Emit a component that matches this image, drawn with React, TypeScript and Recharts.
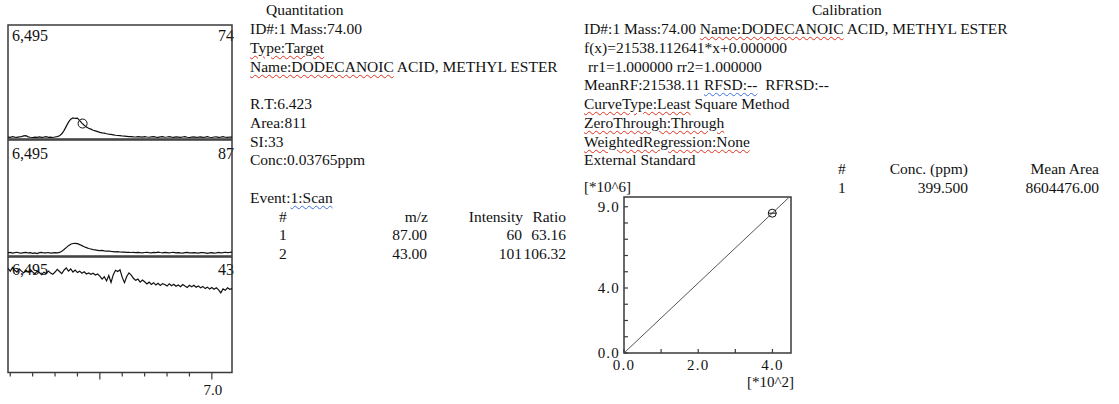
import React from "react";
import {
  LineChart,
  Line,
  XAxis,
  YAxis,
  ReferenceArea,
  ReferenceDot,
  ScatterChart,
  Scatter,
} from "recharts";

const FONT = '"Liberation Serif", "Times New Roman", serif';
const INK = "#111";
const FRAME = "#3a3a3a";
const LH = 18.75;

// retention time (min), one sample every 0.01
const RT = [
  6.09, 6.1, 6.11, 6.12, 6.13, 6.14, 6.15, 6.16, 6.17, 6.18,
  6.19, 6.2, 6.21, 6.22, 6.23, 6.24, 6.25, 6.26, 6.27, 6.28,
  6.29, 6.3, 6.31, 6.32, 6.33, 6.34, 6.35, 6.36, 6.37, 6.38,
  6.39, 6.4, 6.41, 6.42, 6.43, 6.44, 6.45, 6.46, 6.47, 6.48,
  6.49, 6.5, 6.51, 6.52, 6.53, 6.54, 6.55, 6.56, 6.57, 6.58,
  6.59, 6.6, 6.61, 6.62, 6.63, 6.64, 6.65, 6.66, 6.67, 6.68,
  6.69, 6.7, 6.71, 6.72, 6.73, 6.74, 6.75, 6.76, 6.77, 6.78,
  6.79, 6.8, 6.81, 6.82, 6.83, 6.84, 6.85, 6.86, 6.87, 6.88,
  6.89, 6.9, 6.91, 6.92, 6.93, 6.94, 6.95, 6.96, 6.97, 6.98,
  6.99, 7.0, 7.01, 7.02, 7.03, 7.04, 7.05, 7.06, 7.07, 7.08,
  7.09,
];

// ion traces (counts)
const M74 = [
  110, 95, 130, 105, 90, 120, 140, 175, 190, 120,
  100, 85, 110, 95, 120, 90, 105, 130, 95, 110,
  85, 115, 135, 180, 300, 480, 720, 960, 1130, 1200,
  1170, 1190, 1050, 900, 780, 690, 610, 560, 500, 460,
  420, 380, 350, 330, 300, 275, 260, 240, 215, 200,
  195, 170, 160, 150, 135, 140, 125, 115, 130, 120,
  105, 135, 115, 100, 125, 140, 110, 95, 120, 130,
  100, 115, 135, 105, 95, 120, 110, 90, 115, 130,
  100, 85, 110, 125, 95, 105, 120, 90, 110, 135,
  100, 85, 115, 120, 95, 110, 130, 100, 90, 115,
  105,
];

const M87 = [
  180, 200, 165, 185, 210, 175, 160, 190, 205, 170,
  185, 150, 175, 140, 185, 200, 170, 180, 195, 165,
  180, 190, 175, 200, 260, 360, 470, 580, 660, 700,
  710, 690, 640, 580, 520, 470, 420, 390, 360, 340,
  320, 300, 310, 285, 270, 280, 255, 250, 235, 240,
  225, 215, 220, 205, 210, 195, 200, 185, 205, 190,
  180, 195, 210, 185, 175, 200, 190, 215, 195, 180,
  200, 185, 170, 195, 205, 180, 190, 175, 165, 185,
  200, 180, 170, 190, 175, 160, 185, 195, 175, 150,
  170, 185, 165, 180, 200, 175, 185, 210, 190, 200,
  215,
];

const M43 = [
  5850, 5700, 5900, 5750, 5650, 5820, 5700, 5600, 5760, 5640,
  5780, 5660, 5550, 5700, 5620, 5500, 5640, 5560, 5700, 5600,
  5520, 5650, 5800, 5680, 5560, 5750, 5880, 5700, 5820, 5650,
  5760, 5620, 5700, 5580, 5660, 5540, 5600, 5520, 5580, 5480,
  5540, 5420, 5250, 5380, 5150, 5450, 5060, 5500, 5750, 5680,
  5780, 5350, 5050, 5400, 5600, 5480, 5300, 5180, 5250, 5080,
  5200, 5100, 4980, 5080, 4950, 5050, 4920, 5020, 4900, 5000,
  4950, 4860, 4990, 4880, 4960, 4850, 4920, 4820, 4950, 4860,
  4780, 4900, 4820, 4900, 4790, 4860, 4760, 4840, 4720, 4800,
  4700, 4780, 4680, 4760, 4650, 4480, 4700, 4620, 4760, 4680,
  4720,
];

const RT_DOMAIN = [6.09, 7.09];
const INTENSITY_MAX = 6495;
const RT_TICKS = [6.1, 6.2, 6.3, 6.4, 6.5, 6.6, 6.7, 6.8, 6.9, 7.0];
const RT_MAJOR = [6.5, 7.0];
const RT_LABELED = [7.0];
const PEAK_RT = 6.423;
const PEAK_MARK = 880;

// ion table
const ION_NO = ["1", "2"];
const ION_MZ = ["87.00", "43.00"];
const ION_INT = ["60", "101"];
const ION_RATIO = ["63.16", "106.32"];

// calibration
const STD_CONC = [399.5];
const STD_AREA = [8604476];
const FIT_CONC = [0, 445.7];
const FIT_AREA = [0, 9600000];
const CAL_X_TICKS = [0, 100, 200, 300, 400];
const CAL_X_LABELED = [0, 200, 400];
const CAL_Y_TICKS = [0, 1e6, 2e6, 3e6, 4e6, 5e6, 6e6, 7e6, 8e6, 9e6];
const CAL_Y_LABELED = [0, 4e6, 9e6];

const TRACE = RT.map((rt, i) => ({ rt, m74: M74[i], m87: M87[i], m43: M43[i] }));
const STD = STD_CONC.map((conc, i) => ({ conc, area: STD_AREA[i] }));
const FIT = FIT_CONC.map((conc, i) => ({ conc, area: FIT_AREA[i] }));

const near = (list: number[], v: number) => list.some((t) => Math.abs(t - v) < 1e-6);

function RtTick({ x, y, payload }: any) {
  const v = payload.value;
  const major = near(RT_MAJOR, v);
  return (
    <g>
      <line x1={x} y1={y} x2={x} y2={y + (major ? 7 : 4)} stroke={FRAME} strokeWidth={1.2} />
      {near(RT_LABELED, v) && (
        <text x={x + 1} y={y + 22} textAnchor="middle" fontFamily={FONT} fontSize={15} fill={INK}>
          {v.toFixed(1)}
        </text>
      )}
    </g>
  );
}

function CalXTick({ x, y, payload }: any) {
  const v = payload.value;
  return (
    <g>
      <line x1={x} y1={y} x2={x} y2={y - 4} stroke={FRAME} strokeWidth={1.2} />
      {near(CAL_X_LABELED, v) && (
        <text x={x} y={y + 17} textAnchor="middle" fontFamily={FONT} fontSize={15} letterSpacing={1.2} fill={INK}>
          {(v / 100).toFixed(1)}
        </text>
      )}
    </g>
  );
}

function CalYTick({ x, y, payload }: any) {
  const v = payload.value;
  return (
    <g>
      <line x1={x} y1={y} x2={x + 4} y2={y} stroke={FRAME} strokeWidth={1.2} />
      {near(CAL_Y_LABELED, v) && (
        <text x={x - 4} y={y + 5} textAnchor="end" fontFamily={FONT} fontSize={15} letterSpacing={1.2} fill={INK}>
          {(v / 1e6).toFixed(1)}
        </text>
      )}
    </g>
  );
}

function StdMarker({ cx, cy }: any) {
  return (
    <g>
      <circle cx={cx} cy={cy} r={4} fill="none" stroke={INK} strokeWidth={1} />
      <line x1={cx - 4} y1={cy} x2={cx + 4} y2={cy} stroke={INK} strokeWidth={1} />
    </g>
  );
}

function TracePanel({
  top,
  height,
  dataKey,
  withAxis = false,
  peak = false,
}: {
  top: number;
  height: number;
  dataKey: string;
  withAxis?: boolean;
  peak?: boolean;
}) {
  const axisH = withAxis ? 30 : 0;
  return (
    <div style={{ position: "absolute", left: 6, top: top - 2 }}>
      <LineChart
        width={228}
        height={height + 4 + axisH}
        data={TRACE}
        margin={{ top: 2, right: 2, bottom: 2, left: 2 }}
      >
        <XAxis
          dataKey="rt"
          type="number"
          domain={RT_DOMAIN}
          hide={!withAxis}
          ticks={RT_TICKS}
          interval={0}
          tick={(p: any) => <RtTick {...p} />}
          tickSize={0}
          tickMargin={0}
          axisLine={false}
          tickLine={false}
          height={30}
        />
        <YAxis type="number" domain={[0, INTENSITY_MAX]} hide />
        <ReferenceArea
          x1={RT_DOMAIN[0]}
          x2={RT_DOMAIN[1]}
          y1={0}
          y2={INTENSITY_MAX}
          stroke={FRAME}
          strokeWidth={1.5}
          fill="none"
          fillOpacity={0}
        />
        <Line
          dataKey={dataKey}
          type="linear"
          stroke={INK}
          strokeWidth={1.2}
          dot={false}
          isAnimationActive={false}
        />
        {peak && (
          <ReferenceDot x={PEAK_RT} y={PEAK_MARK} r={4.5} fill="none" stroke={INK} strokeWidth={1} />
        )}
      </LineChart>
    </div>
  );
}

function Wavy({ color, children }: { color: string; children: React.ReactNode }) {
  return (
    <span
      style={{
        textDecorationLine: "underline",
        textDecorationStyle: "wavy",
        textDecorationColor: color,
        textDecorationThickness: "1px",
        textUnderlineOffset: "2px",
      }}
    >
      {children}
    </span>
  );
}

const RED = "#e0301e";
const BLUE = "#3d6fe0";

function At({ left, children }: { left: number; children: React.ReactNode }) {
  return <span style={{ position: "absolute", left, whiteSpace: "nowrap" }}>{children}</span>;
}

function AtRight({ right, children }: { right: number; children: React.ReactNode }) {
  return (
    <span style={{ position: "absolute", left: right, transform: "translateX(-100%)", whiteSpace: "nowrap" }}>
      {children}
    </span>
  );
}

function PanelLabels({ top, ion }: { top: number; ion: string }) {
  const s: React.CSSProperties = { position: "absolute", top, fontSize: 16, lineHeight: "16px", whiteSpace: "nowrap" };
  return (
    <>
      <div style={{ ...s, left: 12 }}>{INTENSITY_MAX.toLocaleString("en-US")}</div>
      <div style={{ ...s, left: 234, transform: "translateX(-100%)" }}>{ion}</div>
    </>
  );
}

export default function App() {
  const textBlock: React.CSSProperties = {
    position: "absolute",
    top: 1.4,
    fontSize: 15.5,
    lineHeight: `${LH}px`,
    whiteSpace: "nowrap",
  };
  const row: React.CSSProperties = { position: "relative", height: LH };

  return (
    <div
      style={{
        position: "absolute",
        left: 0,
        top: 0,
        width: 1119,
        height: 404,
        background: "#fff",
        fontFamily: FONT,
        color: INK,
        overflow: "hidden",
      }}
    >
      <PanelLabels top={27.9} ion="74" />
      <PanelLabels top={145.5} ion="87" />
      <PanelLabels top={262} ion="43" />

      <TracePanel top={25} height={114} dataKey="m74" peak />
      <TracePanel top={140} height={116} dataKey="m87" />
      <TracePanel top={256.5} height={115.5} dataKey="m43" withAxis />

      {/* quantitation text */}
      <div style={{ ...textBlock, left: 250 }}>
        <div style={{ paddingLeft: 16 }}>Quantitation</div>
        <div>ID#:1 Mass:74.00</div>
        <div>
          <Wavy color={RED}>Type:Target</Wavy>
        </div>
        <div>
          <Wavy color={RED}>Name:DODECANOIC</Wavy> ACID, METHYL ESTER
        </div>
        <div>&nbsp;</div>
        <div>R.T:6.423</div>
        <div>Area:811</div>
        <div>SI:33</div>
        <div>Conc:0.03765ppm</div>
        <div>&nbsp;</div>
        <div>
          Event:<Wavy color={BLUE}>1:Scan</Wavy>
        </div>
        <div style={row}>
          <At left={29}>#</At>
          <AtRight right={178}>m/z</AtRight>
          <AtRight right={273}>Intensity</AtRight>
          <AtRight right={316}>Ratio</AtRight>
        </div>
        {ION_NO.map((n, i) => (
          <div key={n} style={row}>
            <At left={29}>{n}</At>
            <AtRight right={177}>{ION_MZ[i]}</AtRight>
            <AtRight right={272}>{ION_INT[i]}</AtRight>
            <AtRight right={316}>{ION_RATIO[i]}</AtRight>
          </div>
        ))}
      </div>

      {/* calibration text */}
      <div style={{ ...textBlock, left: 584 }}>
        <div style={{ paddingLeft: 228 }}>Calibration</div>
        <div>
          ID#:1 Mass:74.00 <Wavy color={RED}>Name:DODECANOIC</Wavy> ACID, METHYL ESTER
        </div>
        <div>f(x)=21538.112641*x+0.000000</div>
        <div>&nbsp;rr1=1.000000 rr2=1.000000</div>
        <div>
          MeanRF:21538.11 <Wavy color={BLUE}>RFSD:--</Wavy>&nbsp; RFRSD:--
        </div>
        <div>
          <Wavy color={RED}>CurveType:Least</Wavy> Square Method
        </div>
        <div>
          <Wavy color={RED}>ZeroThrough:Through</Wavy>
        </div>
        <div>
          <Wavy color={RED}>WeightedRegression:None</Wavy>
        </div>
        <div>External Standard</div>
      </div>

      {/* calibration table */}
      <div style={{ ...textBlock, top: 160.4, left: 0, width: 1119, height: 40 }}>
        <div style={row}>
          <At left={838}>#</At>
          <AtRight right={968}>Conc. (ppm)</AtRight>
          <AtRight right={1099}>Mean Area</AtRight>
        </div>
        {STD_CONC.map((c, i) => (
          <div key={i} style={row}>
            <At left={838}>{String(i + 1)}</At>
            <AtRight right={968}>{c.toFixed(3)}</AtRight>
            <AtRight right={1099}>{STD_AREA[i].toFixed(2)}</AtRight>
          </div>
        ))}
      </div>

      <div style={{ position: "absolute", left: 584, top: 178, fontSize: 15, lineHeight: `${LH}px` }}>[*10^6]</div>
      <div style={{ position: "absolute", left: 747, top: 372.5, fontSize: 15, lineHeight: `${LH}px` }}>[*10^2]</div>

      <div style={{ position: "absolute", left: 560, top: 185 }}>
        <ScatterChart width={250} height={210} margin={{ top: 12, right: 19, bottom: 12, left: 4 }}>
          <XAxis
            type="number"
            dataKey="conc"
            domain={[0, 450]}
            ticks={CAL_X_TICKS}
            interval={0}
            tick={(p: any) => <CalXTick {...p} />}
            tickSize={0}
            tickMargin={0}
            axisLine={false}
            tickLine={false}
            height={30}
            allowDataOverflow
          />
          <YAxis
            type="number"
            dataKey="area"
            domain={[0, 9600000]}
            ticks={CAL_Y_TICKS}
            interval={0}
            tick={(p: any) => <CalYTick {...p} />}
            tickSize={0}
            tickMargin={0}
            axisLine={false}
            tickLine={false}
            width={60}
            allowDataOverflow
          />
          <ReferenceArea
            x1={0}
            x2={450}
            y1={0}
            y2={9600000}
            stroke={FRAME}
            strokeWidth={1.5}
            fill="none"
            fillOpacity={0}
          />
          <Scatter
            data={FIT}
            line={{ stroke: "#555", strokeWidth: 1 }}
            shape={() => <g />}
            isAnimationActive={false}
          />
          <Scatter data={STD} shape={(p: any) => <StdMarker {...p} />} isAnimationActive={false} />
        </ScatterChart>
      </div>
    </div>
  );
}
